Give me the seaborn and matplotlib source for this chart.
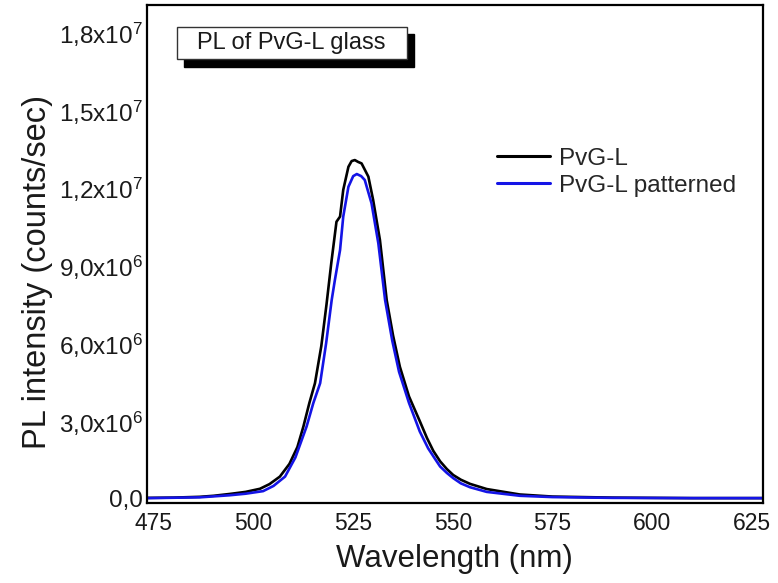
import matplotlib
matplotlib.use("Agg")
import matplotlib.pyplot as plt
import seaborn as sns
import pandas as pd
from matplotlib.patches import Rectangle

# ---- data ----
wl_black = [473.5, 480, 486.5, 490, 494, 498, 501.6, 504, 506.6, 509, 511, 512.5, 514,
            515.4, 517, 518.3, 519.5, 520.8, 521.7, 522.5, 523.8, 524.6, 525.4, 526.2,
            527.1, 528.8, 530.0, 531.7, 533.4, 535, 536.7, 539, 541.7, 543.5, 545.1,
            546.8, 548.5, 550.1, 552, 554.3, 558.5, 566.8, 575, 590, 610, 628]
int_black = [0.04, 0.05, 0.08, 0.12, 0.19, 0.27, 0.39, 0.57, 0.86, 1.35, 2.0, 2.79, 3.7,
             4.46, 5.9, 7.5, 9.1, 10.69, 10.89, 11.92, 12.81, 13.03, 13.07, 13.0,
             12.94, 12.43, 11.53, 9.99, 7.67, 6.3, 5.10, 3.95, 3.0, 2.35, 1.85,
             1.45, 1.15, 0.92, 0.74, 0.58, 0.38, 0.17, 0.09, 0.05, 0.03, 0.03]

wl_blue = [473.5, 486.5, 494, 498, 502.4, 505, 507.9, 510.5, 513.3, 515, 516.7, 518.2,
           519.6, 520.4, 521.7, 522.5, 523.8, 525.0, 525.9, 527.0, 527.9, 529.6, 531.3,
           533.0, 534.8, 536.5, 539, 541.7, 543.8, 545.5, 546.8, 548.5, 550.1, 552,
           554.3, 558.5, 566.8, 575, 590, 610, 628]
int_blue = [0.03, 0.06, 0.14, 0.2, 0.3, 0.5, 0.86, 1.6, 2.79, 3.7, 4.46, 6.0,
            7.67, 8.44, 9.60, 10.89, 12.04, 12.45, 12.53, 12.45, 12.30, 11.40, 9.86,
            7.67, 6.1, 4.9, 3.7, 2.6, 1.95, 1.55, 1.25, 1.0, 0.8, 0.6,
            0.45, 0.27, 0.12, 0.07, 0.04, 0.03, 0.03]

series_names = ["PvG-L", "PvG-L patterned"]
series_colors = ["#000000", "#1414e6"]

x_ticks = [475, 500, 525, 550, 575, 600, 625]
y_ticks = [0, 3.0e6, 6.0e6, 9.0e6, 1.2e7, 1.5e7, 1.8e7]
y_tick_labels = ["0,0",
                 r"3,0x10$^{\mathregular{6}}$",
                 r"6,0x10$^{\mathregular{6}}$",
                 r"9,0x10$^{\mathregular{6}}$",
                 r"1,2x10$^{\mathregular{7}}$",
                 r"1,5x10$^{\mathregular{7}}$",
                 r"1,8x10$^{\mathregular{7}}$"]

title_text = "PL of PvG-L glass"
x_label = "Wavelength (nm)"
y_label = "PL intensity (counts/sec)"

# ---- style ----
sns.set_theme(style="white")
plt.rcParams["font.family"] = ["Liberation Sans", "DejaVu Sans"]
plt.rcParams["mathtext.fontset"] = "custom"
plt.rcParams["mathtext.rm"] = "Liberation Sans"
plt.rcParams["mathtext.it"] = "Liberation Sans:italic"
plt.rcParams["mathtext.bf"] = "Liberation Sans:bold"

fig = plt.figure(figsize=(7.78, 5.83), dpi=100)
ax = fig.add_axes([0.1886, 0.1367, 0.9807 - 0.1886, 0.9914 - 0.1367])

df_black = pd.DataFrame({"wl": wl_black, "I": [v * 1e6 for v in int_black]})
df_blue = pd.DataFrame({"wl": wl_blue, "I": [v * 1e6 for v in int_blue]})

sns.lineplot(data=df_black, x="wl", y="I", ax=ax, color=series_colors[0],
             linewidth=1.9, label=series_names[0])
sns.lineplot(data=df_blue, x="wl", y="I", ax=ax, color=series_colors[1],
             linewidth=1.9, label=series_names[1])

ax.set_xlim(473.2, 627.8)
ax.set_ylim(-0.17e6, 1.905e7)
ax.set_xticks(x_ticks)
ax.set_xticklabels([str(t) for t in x_ticks])
ax.set_yticks(y_ticks)
ax.set_yticklabels(y_tick_labels)
ax.tick_params(axis="both", length=0, colors="#1a1a1a")
ax.tick_params(axis="y", pad=3, labelsize=17.5)
ax.tick_params(axis="x", pad=6, labelsize=16.5)

ax.set_xlabel(x_label, fontsize=22.5, labelpad=7, color="#1a1a1a")
ax.set_ylabel(y_label, fontsize=23.5, color="#1a1a1a")
ax.yaxis.set_label_coords(-0.152, 0.465)

for s in ax.spines.values():
    s.set_visible(True)
    s.set_color("black")
    s.set_linewidth(1.6)

leg = ax.legend(loc="upper left", bbox_to_anchor=(0.568, 0.714), frameon=False,
                fontsize=17.5, handlelength=2.2, handletextpad=0.35,
                labelspacing=0.22, borderpad=0, borderaxespad=0)
for line in leg.get_lines():
    line.set_linewidth(2.2)

# title box with drop shadow
bx0, by0, bw, bh = 0.0487, 0.891, 0.3732, 0.0655
ax.add_patch(Rectangle((bx0 + 0.012, by0 - 0.015), bw, bh, transform=ax.transAxes,
                       facecolor="black", edgecolor="black", zorder=5, clip_on=False))
ax.add_patch(Rectangle((bx0, by0), bw, bh, transform=ax.transAxes,
                       facecolor="white", edgecolor="#333333", linewidth=1.0,
                       zorder=6, clip_on=False))
ax.text(bx0 + bw / 2, by0 + bh / 2, title_text, transform=ax.transAxes,
        ha="center", va="center", fontsize=17, color="#1a1a1a", zorder=7)

fig.savefig("out.png", dpi=100)
